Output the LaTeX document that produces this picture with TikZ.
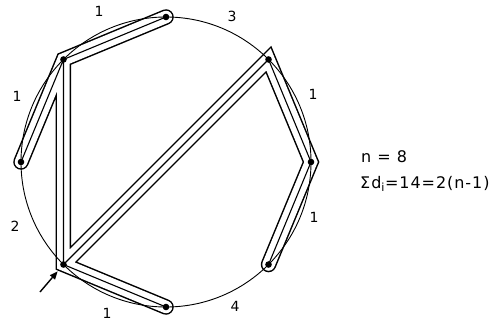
\documentclass[tikz,border=0pt]{standalone}
\usepackage{fontspec}
\setmainfont{DejaVu Sans}
\usetikzlibrary{calc,arrows.meta}
\newcommand{\treepath}{(B)--(A)--(H) (H)--(A)--(G)--(F) (G)--(C)--(D)--(E)}

\begin{document}
\begin{tikzpicture}[x=1pt,y=1pt,lbl/.style={font=\fontsize{14}{16}\selectfont,inner sep=0pt},
  eq/.style={font=\fontsize{16}{18}\selectfont\addfontfeature{LetterSpace=6},anchor=west,inner sep=0pt}]
\useasboundingbox (0,0) rectangle (494,324);
\coordinate (O) at (166,162);
\foreach \n/\a in {D/0,C/45,B/90,A/135,H/180,G/225,F/270,E/315} \coordinate (\n) at ($(O)+(\a:145)$);
\draw[line width=15.5pt,line cap=round,line join=miter,miter limit=2] \treepath;
\draw[white,line width=12.5pt,line cap=round,line join=miter,miter limit=2] \treepath;
\draw[line width=0.9pt] (O) circle (145);
\draw[line width=1.1pt,line join=miter] (B)--(A)--(H) (A)--(G)--(F) (G)--(C)--(D)--(E);
\foreach \n in {A,B,C,D,E,F,G,H} \fill (\n) circle (3.3);
\node[lbl] (dAB) at (99,313) {1}; \node[lbl] (dBC) at (232,308) {3};
\node[lbl] (dCD) at (313,230) {1}; \node[lbl] (dDE) at (314,107) {1};
\node[lbl] (dEF) at (235,18) {4}; \node[lbl] (dFG) at (107,11) {1};
\node[lbl] (dGH) at (15,98) {2}; \node[lbl] (dHA) at (17,228) {1};
\coordinate (tail) at (40,32);
\draw[-{Triangle[length=8pt,width=6.5pt]},line width=1.4pt,shorten >=9pt] (tail) -- (G);
\node[eq] (nn) at (361,167) {n = 8};
\node[eq] (sum) at (360,140) {Σd\textsubscript{i}=14=2(n-1)};
\end{tikzpicture}
\end{document}
